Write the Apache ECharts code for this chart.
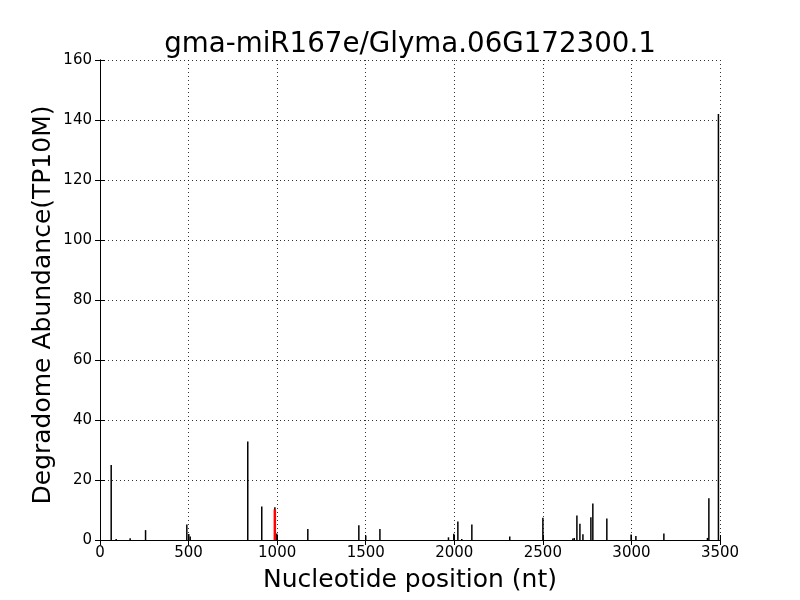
<!DOCTYPE html>
<html>
<head>
<meta charset="utf-8">
<script src="https://cdn.jsdelivr.net/npm/echarts@6/dist/echarts.min.js"></script>
<style>html,body{margin:0;padding:0;background:#fff}#c{width:800px;height:600px}</style>
</head>
<body>
<div id="c"></div>
<script>
const titleText = "gma-miR167e/Glyma.06G172300.1";
const xLabel = "Nucleotide position (nt)";
const yLabel = "Degradome Abundance(TP10M)";
const positions = [66, 94, 173, 260, 493, 504, 512, 837, 916, 990, 1001, 1176, 1464, 1503, 1583, 1970, 2000, 2023, 2045, 2102, 2316, 2503, 2672, 2680, 2695, 2712, 2729, 2774, 2785, 2864, 3001, 3028, 3186, 3432, 3440, 3494];
const abundance = [25, 0.3, 0.6, 3.3, 5.2, 2, 1.2, 32.8, 11.2, 10.9, 2.2, 3.7, 4.9, 1.5, 3.7, 0.9, 2.1, 6.2, 0.3, 5.2, 1.2, 7.4, 0.5, 0.7, 8.2, 5.4, 1.9, 7.6, 12.2, 7.2, 1.8, 1.3, 2.2, 0.7, 13.9, 142];
const cleavagePos = [987];
const cleavageVal = [10.2];
const xTicks = [0, 500, 1000, 1500, 2000, 2500, 3000, 3500];
const yTicks = [0, 20, 40, 60, 80, 100, 120, 140, 160];

const font = "DejaVu Sans";
const gridLine = {show: true, lineStyle: {color: '#000', width: 0.8, type: [1, 3]}};
const chart = echarts.init(document.getElementById('c'));
const axisCommon = {
  axisLine: {show: true, lineStyle: {color: '#000', width: 1}},
  axisTick: {show: true, inside: true, length: 5, lineStyle: {color: '#000'}},
};
chart.setOption({
  animation: false,
  title: {text: titleText, left: 405, textAlign: 'center', top: 26,
    textStyle: {fontFamily: font, fontSize: 27.7, fontWeight: 'normal', color: '#000'}},
  grid: {left: 100, right: 80, top: 60, bottom: 60},
  graphic: [{
    type: 'text', x: 43, y: 305, rotation: Math.PI / 2,
    style: {text: yLabel, fontFamily: font, fontSize: 25, fill: '#000', align: 'center', verticalAlign: 'middle'}
  }],
  xAxis: [{
    type: 'value', min: xTicks[0], max: xTicks[xTicks.length - 1], interval: 500,
    ...axisCommon,
    splitLine: gridLine,
    axisLabel: {fontFamily: font, fontSize: 15, color: '#000', margin: 6, formatter: v => String(v)},
    name: xLabel, nameLocation: 'middle', nameGap: 28,
    nameTextStyle: {fontFamily: font, fontSize: 25, color: '#000'}
  }, {
    type: 'value', min: xTicks[0], max: xTicks[xTicks.length - 1], interval: 500, position: 'top',
    ...axisCommon, splitLine: {show: false}, axisLabel: {show: false}
  }],
  yAxis: [{
    type: 'value', min: yTicks[0], max: yTicks[yTicks.length - 1], interval: 20,
    ...axisCommon,
    splitLine: gridLine,
    axisLabel: {fontFamily: font, fontSize: 15, color: '#000', margin: 8, formatter: v => String(v)}
  }, {
    type: 'value', min: yTicks[0], max: yTicks[yTicks.length - 1], interval: 20, position: 'right',
    ...axisCommon, splitLine: {show: false}, axisLabel: {show: false}
  }],
  series: [{
    type: 'bar', barWidth: 1.5, barGap: '-100%',
    itemStyle: {color: '#000'},
    data: positions.map((p, i) => [p, abundance[i]])
  }, {
    type: 'bar', barWidth: 2.5, barGap: '-100%',
    itemStyle: {color: '#ff0000'},
    data: cleavagePos.map((p, i) => [p, cleavageVal[i]])
  }]
});
</script>
</body>
</html>
